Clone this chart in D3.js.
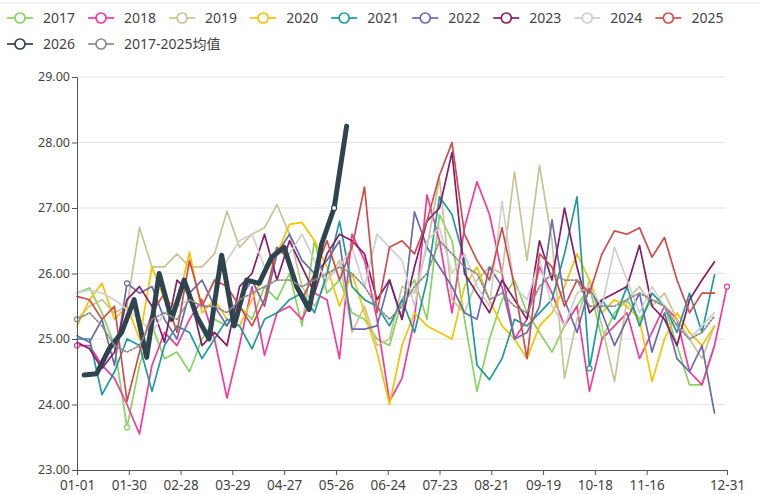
<!DOCTYPE html>
<html>
<head>
<meta charset="utf-8">
<script src="https://cdn.jsdelivr.net/npm/d3@7/dist/d3.min.js"></script>
<style>
  body { margin: 0; background: #fff; font-family: "Noto Sans", "Noto Sans CJK SC", sans-serif; }
</style>
</head>
<body>
<div id="chart"></div>
<script>
// 图例名称 & 颜色
const seriesNames = ["2017", "2018", "2019", "2020", "2021", "2022", "2023", "2024", "2025", "2026", "2017-2025均值"];
const seriesColors = ["#86d45e", "#f23a9c", "#c9c394", "#f5c400", "#1f9a9a", "#6a6aac", "#861d68", "#cfcfcf", "#cf4c4a", "#2e4550", "#8c8c8c"];

// x 轴刻度
const xTickLabels = ["01-01", "01-30", "02-28", "03-29", "04-27", "05-26", "06-24", "07-23", "08-21", "09-19", "10-18", "11-16", "12-31"];
const yTicks = [23, 24, 25, 26, 27, 28, 29];

// 每个序列第一个点的日序号（周数据）
const firstDay = [0, 0, 0, 0, 0, 0, 0, 0, 0, 4, 0];

// 周度数据
const v2017 = [25.7, 25.78, 25.4, 24.9, 23.65, 24.6, 25.2, 24.7, 24.8, 24.5, 25.0, 25.3, 25.2, 25.5, 25.3, 25.8, 25.6, 26.0, 25.2, 26.5, 25.7, 25.9, 25.4, 25.3, 25.0, 24.9, 25.6, 25.9, 25.3, 26.9, 26.5, 25.3, 24.2, 25.0, 25.6, 25.9, 25.4, 25.1, 24.8, 25.2, 25.5, 25.8, 25.0, 25.4, 25.6, 25.3, 25.6, 25.5, 24.9, 24.3, 24.3, 24.9];
const v2018 = [24.9, 24.9, 24.6, 24.4, 24.0, 23.55, 24.6, 25.1, 24.9, 25.3, 25.6, 25.0, 24.1, 24.9, 25.8, 24.75, 25.4, 25.5, 25.3, 25.7, 25.6, 24.7, 26.6, 26.2, 25.3, 24.05, 24.4, 25.3, 27.2, 26.5, 25.4, 26.7, 27.4, 26.9, 26.0, 25.0, 25.3, 26.1, 25.7, 25.2, 25.5, 24.2, 25.0, 25.2, 25.4, 24.7, 25.1, 25.5, 25.3, 24.5, 24.3, 24.9, 25.8];
const v2019 = [25.3, 25.5, 25.6, 25.4, 25.5, 26.7, 26.1, 26.1, 26.3, 26.1, 26.1, 26.3, 26.95, 26.4, 26.6, 26.7, 27.05, 26.6, 25.8, 25.5, 25.9, 26.2, 25.1, 25.5, 24.9, 25.0, 25.8, 25.7, 26.4, 27.45, 25.6, 25.4, 25.9, 26.1, 26.0, 27.55, 26.2, 27.65, 26.5, 24.4, 25.3, 25.9, 25.2, 24.35, 25.6, 25.8, 25.5, 25.7, 25.3, 25.0, 24.7, 25.2];
const v2020 = [25.2, 25.6, 25.85, 25.3, 25.5, 25.0, 26.1, 25.6, 25.5, 26.33, 25.4, 25.6, 25.3, 25.2, 25.6, 26.0, 26.3, 26.75, 26.78, 26.5, 26.1, 25.5, 26.0, 25.4, 24.8, 24.0, 24.9, 25.4, 25.2, 25.1, 25.0, 25.8, 26.1, 25.6, 25.2, 25.0, 24.7, 25.2, 25.4, 25.8, 26.3, 25.9, 25.4, 25.6, 25.5, 25.3, 24.35, 25.0, 25.4, 25.1, 24.9, 25.2];
const v2021 = [25.0, 25.0, 24.15, 24.5, 25.0, 24.9, 24.2, 24.9, 25.2, 25.1, 24.7, 25.0, 25.3, 25.2, 24.85, 25.3, 25.4, 25.6, 25.7, 25.4, 26.0, 26.8, 25.8, 25.6, 25.5, 25.2, 25.6, 25.1, 25.9, 27.17, 26.9, 26.2, 24.6, 24.38, 24.7, 25.3, 25.2, 25.4, 25.6, 26.3, 27.17, 24.55, 25.6, 25.3, 25.8, 25.2, 25.7, 25.5, 25.1, 25.7, 25.1, 25.98];
const v2022 = [25.05, 24.95, 25.3, 24.6, 25.85, 25.7, 25.8, 25.3, 25.0, 25.7, 25.9, 25.5, 25.2, 25.6, 25.9, 25.5, 26.3, 26.6, 26.2, 26.0, 26.2, 26.5, 25.15, 25.15, 25.2, 25.9, 25.3, 26.94, 26.4, 26.1, 25.8, 25.4, 25.3, 26.1, 25.8, 25.0, 25.1, 25.5, 26.82, 25.6, 25.1, 25.8, 25.4, 24.9, 25.3, 25.7, 24.8, 25.4, 24.7, 24.5, 24.9, 23.87];
const v2023 = [24.95, 24.85, 24.55, 24.8, 25.6, 25.8, 25.5, 24.95, 25.9, 25.7, 24.9, 25.1, 24.9, 25.8, 26.0, 26.6, 25.9, 26.5, 26.1, 25.7, 26.3, 26.6, 26.5, 26.3, 25.6, 25.9, 25.3, 26.1, 26.8, 27.0, 27.85, 26.0, 25.7, 25.4, 25.9, 25.6, 25.3, 26.5, 25.9, 27.0, 26.1, 25.4, 25.6, 25.7, 25.8, 26.43, 25.5, 25.3, 24.9, 25.6, 25.9, 26.18];
const v2024 = [25.7, 25.75, 25.7, 25.6, 25.45, 25.3, 25.1, 25.4, 25.5, 25.6, 25.5, 25.9, 26.2, 26.5, 26.6, 26.1, 26.4, 26.3, 26.6, 26.2, 25.9, 26.1, 26.4, 25.8, 26.6, 26.4, 26.2, 25.5, 26.5, 26.7, 26.0, 26.3, 25.8, 25.5, 27.1, 25.8, 25.6, 26.2, 25.5, 25.2, 25.7, 25.8, 25.5, 26.4, 25.9, 25.4, 25.8, 25.5, 25.2, 25.0, 25.2, 25.4];
const v2025 = [25.65, 25.6, 25.3, 25.5, 24.05, 24.8, 25.4, 25.7, 25.1, 26.2, 25.5, 25.9, 25.8, 25.5, 25.2, 25.6, 26.4, 26.2, 25.6, 26.0, 26.5, 25.9, 26.4, 27.32, 25.4, 26.4, 26.5, 26.3, 26.8, 27.5, 28.0, 26.6, 26.2, 25.9, 26.7, 25.8, 24.7, 26.3, 26.1, 25.5, 25.9, 25.7, 26.3, 26.65, 26.6, 26.7, 26.25, 26.55, 25.9, 25.4, 25.7, 25.7];
const v2026 = [24.45, 24.47, 24.85, 25.1, 25.6, 24.72, 26.0, 25.3, 25.9, 25.35, 25.0, 26.28, 25.2, 25.9, 25.85, 26.25, 26.4, 25.8, 25.45, 26.45, 27.0, 28.25];
const vAvg = [25.3, 25.4, 25.2, 24.9, 24.8, 24.9, 25.3, 25.4, 25.3, 25.6, 25.5, 25.5, 25.4, 25.6, 25.7, 25.8, 25.9, 25.9, 25.8, 25.9, 26.0, 26.1, 26.0, 25.8, 25.5, 25.3, 25.5, 25.8, 26.0, 26.5, 26.3, 26.1, 26.0, 25.6, 25.7, 25.5, 25.4, 25.8, 26.0, 25.9, 25.9, 25.5, 25.5, 25.5, 25.6, 25.7, 25.6, 25.5, 25.2, 25.0, 25.1, 25.35];

// 显示空心圆点的位置 [序列, 点序号]
const symbolAt = [["2018", 0], ["2018", 52], ["2017-2025均值", 0], ["2017", 4], ["2022", 4], ["2021", 41], ["2026", 20]];

const allValues = [v2017, v2018, v2019, v2020, v2021, v2022, v2023, v2024, v2025, v2026, vAvg];

const width = 760, height = 494;
const margin = { top: 77, right: 33, bottom: 24, left: 77 };

const svg = d3.select("#chart").append("svg")
  .attr("width", width)
  .attr("height", height);

// 顶部细线
svg.append("line")
  .attr("x1", 0).attr("x2", width)
  .attr("y1", 3).attr("y2", 3)
  .attr("stroke", "#e4e4e4");

const parseMD = d3.timeParse("%m-%d");
const dayOf = s => d3.timeDay.count(parseMD("01-01"), parseMD(s));

const x = d3.scaleLinear()
  .domain([0, dayOf("12-31")])
  .range([margin.left, width - margin.right]);

const y = d3.scaleLinear()
  .domain([23, 29])
  .range([height - margin.bottom, margin.top]);

// 网格
svg.append("g")
  .selectAll("line")
  .data(yTicks.filter(d => d > 23))
  .enter().append("line")
  .attr("x1", x.range()[0]).attr("x2", x.range()[1] - 2)
  .attr("y1", d => y(d)).attr("y2", d => y(d))
  .attr("stroke", "#e3e3e3")
  .attr("stroke-width", 1.2);

const series = seriesNames.map((name, k) => ({
  name: name,
  color: seriesColors[k],
  points: allValues[k].map((v, i) => ({ day: firstDay[k] + i * 7, v: v }))
}));

const line = d3.line()
  .x(d => x(d.day))
  .y(d => y(d.v));

const plot = svg.append("g");

plot.selectAll(".line")
  .data(series)
  .enter().append("path")
  .attr("class", "line")
  .attr("d", d => line(d.points))
  .attr("fill", "none")
  .attr("stroke", d => d.color)
  .attr("stroke-width", d => d.name === "2026" ? 5 : (d.name === "2017-2025均值" ? 1.8 : 1.7))
  .attr("stroke-dasharray", d => d.name === "2017-2025均值" ? "1.5,2" : null)
  .attr("stroke-linejoin", "round")
  .attr("stroke-linecap", "round");

plot.selectAll(".dot")
  .data(symbolAt.map(([name, i]) => {
    const s = series.find(d => d.name === name);
    return { color: s.color, p: s.points[i] };
  }))
  .enter().append("circle")
  .attr("class", "dot")
  .attr("cx", d => x(d.p.day))
  .attr("cy", d => y(d.p.v))
  .attr("r", 2.5)
  .attr("fill", "#fff")
  .attr("stroke", d => d.color)
  .attr("stroke-width", 1.2);

// y 轴
const yAxis = svg.append("g")
  .attr("transform", `translate(${margin.left},0)`)
  .call(d3.axisLeft(y).tickValues(yTicks).tickFormat(d3.format(".2f")).tickSizeOuter(0).tickSize(5));
yAxis.select(".domain").attr("stroke", "#555");
yAxis.selectAll(".tick line").attr("stroke", "#555");
yAxis.selectAll("text")
  .attr("fill", "#444")
  .style("font-size", "12.5px")
  .style("font-family", "'Noto Sans', sans-serif")
  .attr("x", -7)
  .attr("dy", "0.28em");

// x 轴
const xAxis = svg.append("g")
  .attr("transform", `translate(0,${height - margin.bottom})`)
  .call(d3.axisBottom(x).tickValues(xTickLabels.map(dayOf)).tickFormat((d, i) => xTickLabels[i]).tickSizeOuter(0).tickSize(5));
xAxis.select(".domain").attr("stroke", "#555");
xAxis.selectAll(".tick line").attr("stroke", "#555");
xAxis.selectAll("text")
  .attr("fill", "#444")
  .style("font-size", "13.5px")
  .style("font-family", "'Noto Sans', sans-serif")
  .attr("y", 10);

// 图例
const legend = svg.append("g");
let lx = 7, ly = 18;
seriesNames.forEach((name, k) => {
  const g = legend.append("g").attr("transform", `translate(${lx},${ly})`);
  g.append("line")
    .attr("x1", 0).attr("x2", 26)
    .attr("stroke", seriesColors[k])
    .attr("stroke-width", 1.7);
  g.append("circle")
    .attr("cx", 13).attr("r", 5)
    .attr("fill", "#fff")
    .attr("stroke", seriesColors[k])
    .attr("stroke-width", 1.7);
  const t = g.append("text")
    .attr("x", 36)
    .attr("dy", "0.36em")
    .attr("fill", "#444")
    .style("font-size", "14px")
    .style("font-family", "'Noto Sans', 'Noto Sans CJK SC', sans-serif")
    .text(name);
  const w = t.node().getComputedTextLength();
  lx += 36 + w + 13;
  if (k === 8) { lx = 7; ly = 44; }
});
</script>
</body>
</html>
